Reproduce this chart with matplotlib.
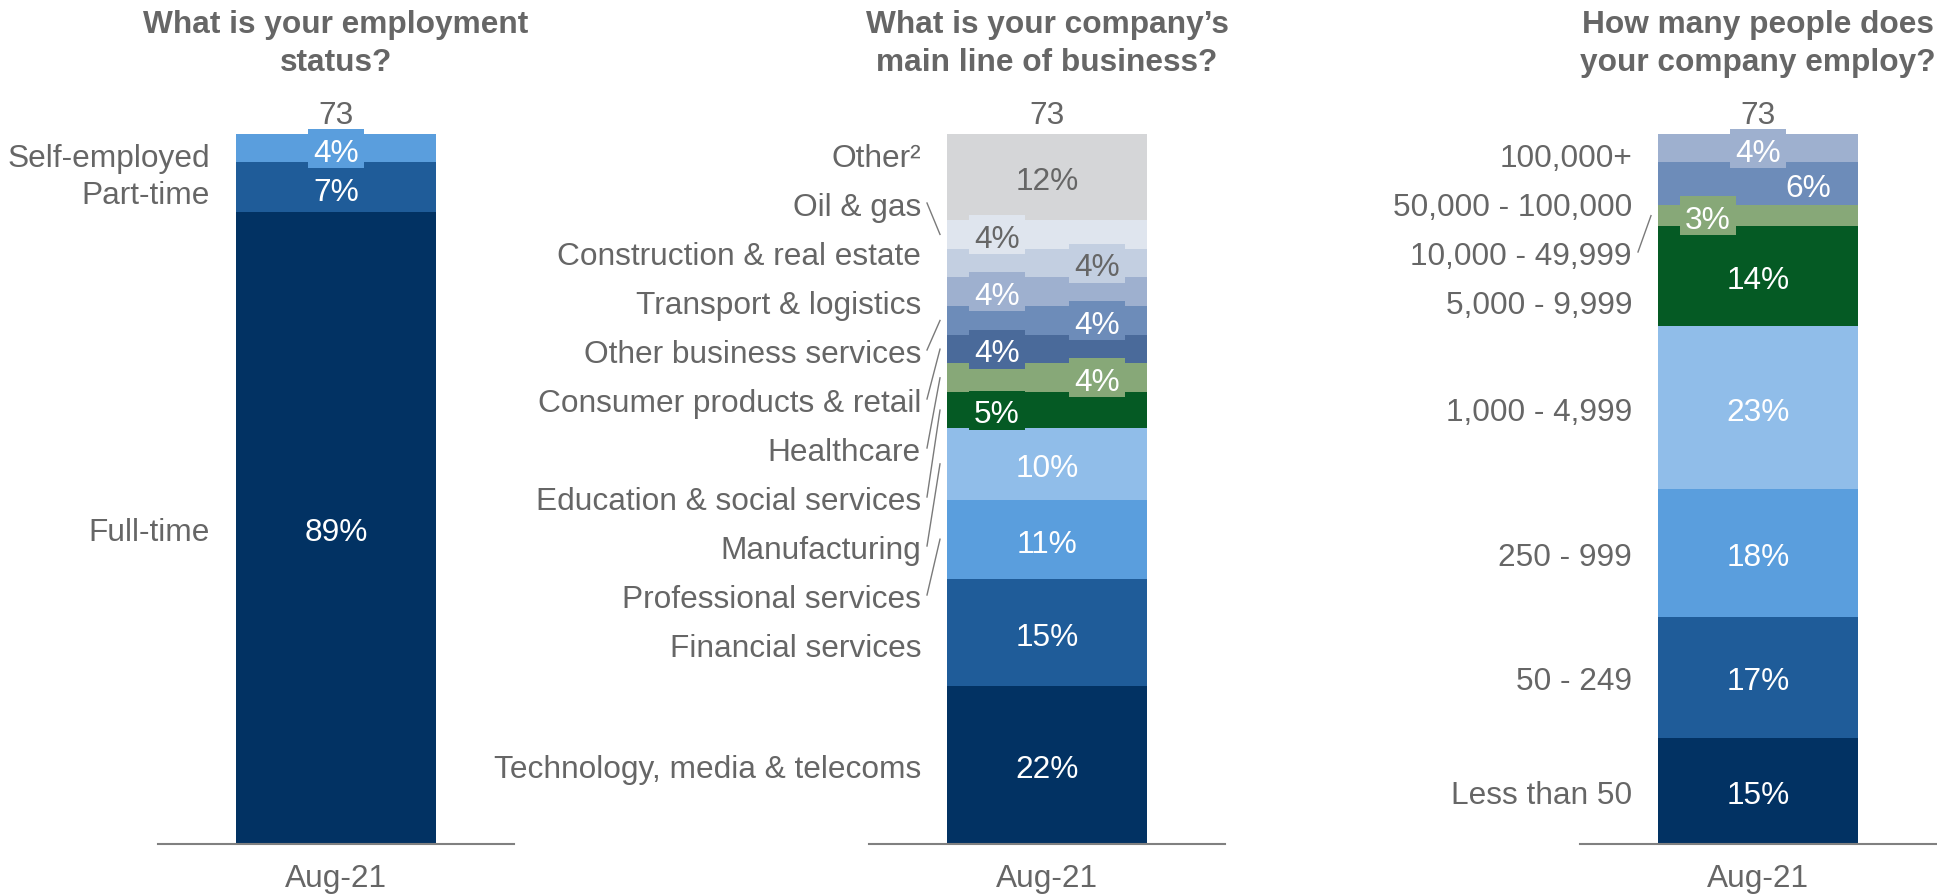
import numpy as np
import matplotlib
matplotlib.use('Agg')
import matplotlib.pyplot as plt
from matplotlib.patches import Rectangle

plt.rcParams['font.family'] = ['Liberation Sans', 'DejaVu Sans']

# ---- data (each list runs bottom of the bar -> top) ----
sample_n = [73, 73, 73]
period = 'Aug-21'

status = ['Full-time', 'Part-time', 'Self-employed']
status_pct = [89, 7, 4]

business = ['Technology, media & telecoms', 'Financial services', 'Professional services',
            'Manufacturing', 'Education & social services', 'Healthcare',
            'Consumer products & retail', 'Other business services',
            'Transport & logistics', 'Construction & real estate', 'Oil & gas', 'Other²']
business_pct = [22, 15, 11, 10, 5, 4, 4, 4, 4, 4, 4, 12]

size = ['Less than 50', '50 - 249', '250 - 999', '1,000 - 4,999', '5,000 - 9,999',
        '10,000 - 49,999', '50,000 - 100,000', '100,000+']
size_pct = [15, 17, 18, 23, 14, 3, 6, 4]

titles = ['What is your employment\nstatus?',
          'What is your company’s\nmain line of business?',
          'How many people does\nyour company employ?']

# ---- styling ----
NAVY, MID, BLUE, LBLUE = '#023263', '#1f5c99', '#5a9edd', '#90bde9'
DGREEN, GREEN = '#055a24', '#87a878'
SLATE1, SLATE2, SLATE3, SLATE4, SLATE5 = '#4a6a9a', '#6d8cb9', '#9eb0cf', '#c3cfe1', '#dfe5ee'
LGREY = '#d5d6d8'
TXT = '#666666'
W = 'white'

status_col = [NAVY, MID, BLUE]
status_txt = [W, W, W]
status_slot = ['c', 'c', 'c']

business_col = [NAVY, MID, BLUE, LBLUE, DGREEN, GREEN, SLATE1, SLATE2, SLATE3, SLATE4, SLATE5, LGREY]
business_txt = [W] * 9 + [TXT, TXT, TXT]
business_slot = ['c', 'c', 'c', 'c', 'l', 'r', 'l', 'r', 'l', 'r', 'l', 'c']

size_col = [NAVY, MID, BLUE, LBLUE, DGREEN, GREEN, SLATE2, SLATE3]
size_txt = [W] * 8
size_slot = ['c', 'c', 'c', 'c', 'c', 'l', 'r', 'c']

SLOT_X = {'c': 0.0, 'l': -0.25, 'r': 0.25}
FS = 22.8
MID_DROP = 12.3                       # px from a digit's visual middle down to its baseline
BOX_H = 39                            # label background box, px
BOX_W_CHAR = 18.5                     # box width per character, px

FIG_W, FIG_H = 1937, 895
BAR_TOP, BAR_BOT = 135, 845          # pixel rows of the bar top / baseline
BAR_H = BAR_BOT - BAR_TOP
BAR_PX = 200                          # bar width in pixels
HALF_SPAN = 178                       # half width of each panel's baseline
CENTRES = [336, 1047, 1758]


def spread(centres, gap, lo):
    """Push label positions (measured down from the bar top) apart so that
    neighbours are at least `gap` apart, keeping each group centred on its
    segments and never above `lo`."""
    groups = []
    for i, c in enumerate(centres):
        groups.append([i, 1, max(c, lo)])
        while len(groups) > 1:
            a, b = groups[-2], groups[-1]
            if b[2] >= a[2] + a[1] * gap:
                break
            n = a[1] + b[1]
            mean = np.mean(centres[a[0]:a[0] + n])
            groups[-2:] = [[a[0], n, max(mean - (n - 1) / 2 * gap, lo)]]
    out = []
    for first, n, start in groups:
        out += [start + k * gap for k in range(n)]
    return np.array(out)


def panel(ax, title, labels, pct, colours, txt_cols, slots, n, gap):
    pct = np.array(pct, dtype=float)
    total = pct.sum()
    bottoms = np.concatenate([[0], np.cumsum(pct)[:-1]])
    mids = bottoms + pct / 2

    ax.bar([0] * len(pct), pct, width=1, bottom=bottoms, color=colours, linewidth=0)
    ax.set_xlim(-HALF_SPAN / BAR_PX, HALF_SPAN / BAR_PX)
    ax.set_ylim(0, total)
    px = total / BAR_H           # data units per pixel (vertical)
    hx = 1 / BAR_PX              # data units per pixel (horizontal)
    drop = MID_DROP * px

    # segment values, each on a small box in the segment colour
    for m, v, c, tc, s in zip(mids, pct, colours, txt_cols, slots):
        txt = f'{v:.0f}%'
        bw = (len(txt) * BOX_W_CHAR + 19) * hx
        ax.add_patch(Rectangle((SLOT_X[s] - bw / 2, m - BOX_H * px / 2), bw, BOX_H * px,
                               fc=c, ec='none', zorder=2, clip_on=False))
        ax.text(SLOT_X[s], m - drop, txt, ha='center', va='baseline', color=tc,
                fontsize=FS, zorder=3)

    # category labels on the left, spread out top-down
    down = (total - mids[::-1]) / px
    pos = spread(down, gap, 20)[::-1]
    lab_y = total - pos * px
    half = pct / 2
    for lbl, ly, m, h in zip(labels, lab_y, mids, half):
        ax.text(-0.5 - 26 * hx, ly - drop, lbl, ha='right', va='baseline', color=TXT,
                fontsize=FS, clip_on=False)
        if abs(ly - m) > h + 2 * px:
            ax.plot([-0.5 - 20 * hx, -0.5 - 7 * hx], [ly, m], color='#7a7a7a',
                    lw=1.0, clip_on=False)

    ax.text(0, total + 23 * px - drop, str(n), ha='center', va='baseline',
            color=TXT, fontsize=FS)
    ax.text(0, total + 91 * px, title, ha='center', va='center', color=TXT,
            fontsize=FS, fontweight='bold', linespacing=1.35)

    ax.set_xticks([0])
    ax.set_xticklabels([period])
    ax.set_yticks([])
    ax.tick_params(axis='x', length=0, pad=13.5, labelsize=FS, labelcolor=TXT)
    for side in ['top', 'left', 'right']:
        ax.spines[side].set_visible(False)
    ax.spines['bottom'].set_color('#808080')
    ax.spines['bottom'].set_linewidth(1.5)
    ax.spines['bottom'].set_zorder(4)
    ax.set_facecolor('none')


fig = plt.figure(figsize=(FIG_W / 100, FIG_H / 100), dpi=100)
specs = [
    (status, status_pct, status_col, status_txt, status_slot, 36.5),
    (business, business_pct, business_col, business_txt, business_slot, 49),
    (size, size_pct, size_col, size_txt, size_slot, 49),
]
for i, (labels, pct, cols, tcols, slots, gap) in enumerate(specs):
    c = CENTRES[i]
    ax = fig.add_axes([(c - HALF_SPAN) / FIG_W, (FIG_H - BAR_BOT) / FIG_H,
                       2 * HALF_SPAN / FIG_W, BAR_H / FIG_H])
    panel(ax, titles[i], labels, pct, cols, tcols, slots, sample_n[i], gap)

fig.savefig('out.png', dpi=100, facecolor='white')
